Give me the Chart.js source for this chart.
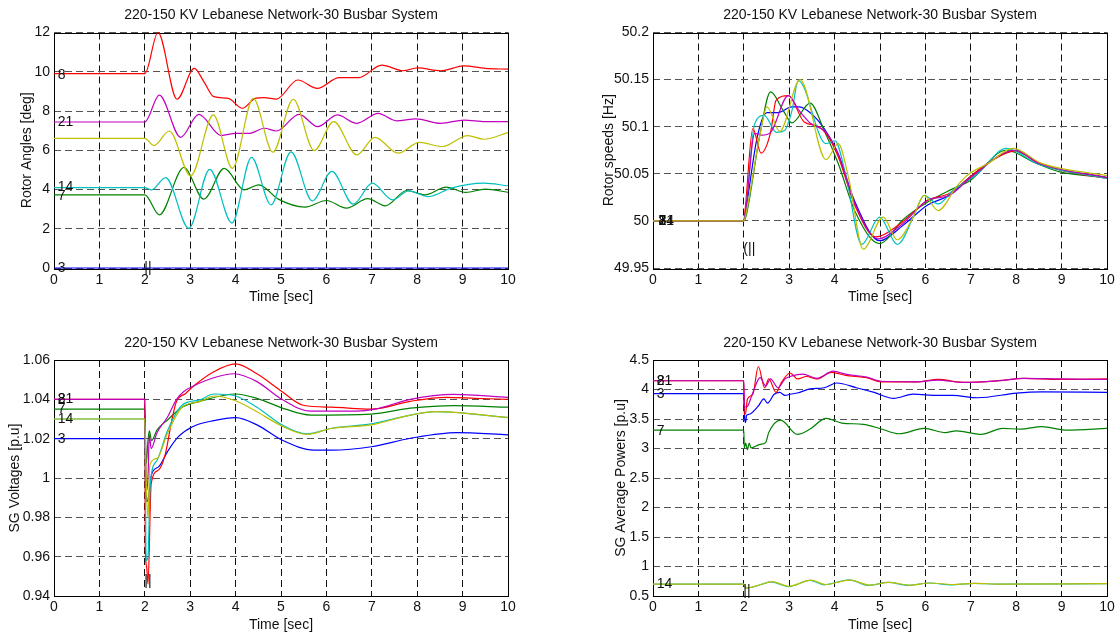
<!DOCTYPE html>
<html>
<head>
<meta charset="utf-8">
<title>220-150 KV Lebanese Network-30 Busbar System</title>
<script src="https://cdn.jsdelivr.net/npm/chart.js@4.4.0/dist/chart.umd.min.js"></script>
<style>
  body { margin: 0; background: #fff; }
  #wrap { position: relative; width: 1119px; height: 635px; }
  #wrap canvas { position: absolute; }
</style>
</head>
<body>
<div id="wrap">
  <canvas id="anglesChart" width="560" height="318" style="left:0;top:0"></canvas>
  <canvas id="speedsChart" width="559" height="318" style="left:560px;top:0"></canvas>
  <canvas id="voltsChart" width="560" height="317" style="left:0;top:318px"></canvas>
  <canvas id="powersChart" width="559" height="317" style="left:560px;top:318px"></canvas>
</div>
<script>
'use strict';

/* 220-150 KV Lebanese Network - 30 busbar system, fault at t = 2 s
 * values, [time, value]
 */
var titleText = '220-150 KV Lebanese Network-30 Busbar System';
var timeTicks = [0, 1, 2, 3, 4, 5, 6, 7, 8, 9, 10];
var angleTicks = [0, 2, 4, 6, 8, 10, 12];
var speedTicks = [49.95, 50, 50.05, 50.1, 50.15, 50.2];
var voltTicks = [0.94, 0.96, 0.98, 1, 1.02, 1.04, 1.06];
var powerTicks = [0.5, 1, 1.5, 2, 2.5, 3, 3.5, 4, 4.5];

// rotor angles [deg]
var angle8 = [[0, 9.9], [2, 9.9], [2.29, 12.0], [2.71, 8.6], [3.09, 10.17], [3.3, 9.5], [3.52, 8.73],
  [3.84, 8.64], [4.15, 8.14], [4.43, 8.64], [4.63, 8.68], [4.9, 8.61], [5.37, 9.58], [5.8, 9.15],
  [6.28, 9.7], [6.71, 9.7], [7.22, 10.34], [7.69, 10.05], [8.01, 10.2], [8.52, 10.05], [9.03, 10.3],
  [9.5, 10.17], [10, 10.13]];
var angle21 = [[0, 7.44], [2, 7.44], [2.32, 8.81], [2.79, 6.66], [3.19, 7.83], [3.68, 6.75], [4.0, 6.86],
  [4.31, 6.86], [4.63, 7.12], [4.9, 6.98], [5.4, 7.83], [5.81, 7.2], [6.24, 7.8], [6.67, 7.37],
  [7.14, 7.88], [7.54, 7.5], [7.97, 7.6], [8.52, 7.37], [9.03, 7.54], [9.5, 7.46], [10, 7.46]];
var angle2 = [[0, 6.61], [2, 6.61], [2.2, 6.24], [2.54, 6.98], [3.01, 4.69], [3.51, 7.8], [3.93, 5.08],
  [4.39, 8.64], [4.82, 5.9], [5.27, 8.6], [5.73, 5.98], [6.16, 7.46], [6.67, 5.76], [7.07, 6.66],
  [7.58, 5.85], [8.05, 6.4], [8.56, 6.19], [9.11, 6.75], [9.47, 6.56], [10, 6.9]];
var angle14 = [[0, 4.1], [2, 4.1], [2.15, 3.98], [2.46, 4.61], [2.97, 2.02], [3.43, 5.03], [3.92, 2.29],
  [4.35, 5.64], [4.78, 3.22], [5.22, 5.92], [5.69, 3.42], [6.12, 4.92], [6.59, 3.25], [7.01, 4.32],
  [7.46, 3.47], [7.81, 3.93], [8.25, 3.64], [8.75, 4.07], [9.47, 4.32], [10, 4.19]];
var angle7 = [[0, 3.73], [2, 3.73], [2.32, 2.71], [2.86, 5.12], [3.3, 3.51], [3.75, 5.08], [4.19, 3.98],
  [4.51, 4.24], [4.94, 3.51], [5.53, 3.1], [6.0, 3.44], [6.44, 3.05], [6.91, 3.53], [7.3, 3.17],
  [7.77, 3.95], [8.17, 3.73], [8.64, 4.12], [9.07, 3.85], [9.5, 4.02], [10, 3.86]];
var angle3 = [[0, 0], [10, 0]];

// rotor speeds [Hz]
var speed8 = [[0, 50], [2, 50], [2.03, 50.012], [2.2, 50.098], [2.38, 50.072], [2.59, 50.094], [2.71, 50.128],
  [2.98, 50.133], [3.33, 50.105], [3.61, 50.101], [3.81, 50.093], [4.08, 50.068], [4.45, 50.016],
  [4.91, 49.983], [5.07, 49.985], [5.5, 49.999], [6.05, 50.022], [6.52, 50.029], [6.99, 50.047],
  [7.46, 50.064], [7.97, 50.074], [8.48, 50.062], [8.96, 50.054], [10, 50.045]];
var speed21 = [[0, 50], [2, 50], [2.04, 50.01], [2.24, 50.093], [2.4, 50.091], [2.59, 50.094], [2.98, 50.133],
  [3.22, 50.117], [3.46, 50.104], [3.81, 50.094], [4.08, 50.071], [4.45, 50.018], [4.95, 49.981],
  [5.5, 49.997], [6.05, 50.022], [6.52, 50.027], [7.0, 50.046], [7.97, 50.075], [8.5, 50.061], [10, 50.046]];
var speed3 = [[0, 50], [2, 50], [2.04, 50.01], [2.3, 50.09], [2.51, 50.115], [2.75, 50.115], [3.06, 50.121],
  [3.22, 50.121], [3.53, 50.112], [3.77, 50.098], [4.08, 50.071], [4.45, 50.02], [4.99, 49.979],
  [5.5, 49.995], [6.05, 50.017], [6.52, 50.027], [6.99, 50.047], [8.01, 50.075], [8.5, 50.061], [10, 50.046]];
var speed7 = [[0, 50], [2, 50], [2.05, 50.005], [2.36, 50.093], [2.59, 50.137], [2.87, 50.117], [3.06, 50.104],
  [3.46, 50.125], [3.77, 50.096], [4.08, 50.061], [4.45, 50.01], [4.99, 49.976], [5.5, 50.001],
  [6.05, 50.02], [6.6, 50.034], [6.99, 50.043], [7.78, 50.075], [8.4, 50.062], [8.96, 50.052], [10, 50.046]];
var speed14 = [[0, 50], [2, 50], [2.04, 50.01], [2.24, 50.103], [2.45, 50.112], [2.72, 50.094], [2.9, 50.096],
  [3.06, 50.117], [3.2, 50.149], [3.81, 50.082], [4.01, 50.085], [4.24, 50.05], [4.6, 49.975],
  [4.99, 50.004], [5.38, 49.975], [5.77, 50.008], [5.97, 50.027], [6.28, 50.018], [6.6, 50.032],
  [7.15, 50.05], [7.78, 50.077], [8.5, 50.06], [10, 50.045]];
var speed2 = [[0, 50], [2, 50], [2.05, 50.008], [2.35, 50.09], [2.51, 50.121], [2.79, 50.095], [3.24, 50.15],
  [3.81, 50.065], [4.08, 50.082], [4.32, 50.043], [4.63, 49.97], [5.07, 50.004], [5.38, 49.98],
  [5.73, 50.004], [5.97, 50.027], [6.28, 50.011], [6.68, 50.036], [6.91, 50.048], [7.38, 50.061],
  [7.93, 50.077], [8.56, 50.061], [10, 50.048]];

// SG voltages [p.u]
var volt8 = [[0, 1.04], [2, 1.04], [2.01, 0.965], [2.04, 0.955], [2.07, 0.946], [2.14, 0.997], [2.3, 1.004],
  [2.45, 1.012], [2.6, 1.03], [2.7, 1.039], [2.9, 1.043], [3.09, 1.047], [3.52, 1.054], [4.0, 1.058],
  [4.47, 1.053], [5.02, 1.044], [5.49, 1.037], [6.12, 1.036], [6.99, 1.035], [7.85, 1.039],
  [8.64, 1.041], [9.27, 1.0405], [10, 1.04]];
var volt21 = [[0, 1.04], [2, 1.04], [2.03, 0.993], [2.07, 1.0], [2.1, 1.022], [2.14, 1.015], [2.27, 1.023],
  [2.5, 1.031], [2.7, 1.04], [2.86, 1.044], [3.09, 1.047], [3.52, 1.051], [3.96, 1.053], [4.47, 1.049],
  [5.02, 1.04], [5.65, 1.034], [6.67, 1.034], [7.07, 1.035], [7.85, 1.04], [8.8, 1.0425], [10, 1.041]];
var volt7 = [[0, 1.035], [2, 1.035], [2.03, 1.007], [2.07, 1.019], [2.1, 1.024], [2.15, 1.019], [2.27, 1.0245],
  [2.5, 1.0295], [2.82, 1.036], [3.21, 1.039], [4.0, 1.0427], [4.47, 1.0405], [5.1, 1.035], [5.65, 1.032],
  [6.99, 1.0325], [7.85, 1.0355], [8.8, 1.0368], [10, 1.036]];
var volt14 = [[0, 1.03], [2, 1.03], [2.03, 0.958], [2.07, 0.96], [2.12, 0.997], [2.27, 1.009], [2.5, 1.024],
  [2.82, 1.037], [3.21, 1.0397], [3.52, 1.0427], [4.0, 1.0417], [4.47, 1.036], [5.02, 1.027],
  [5.57, 1.0224], [6.12, 1.0253], [6.99, 1.0275], [7.85, 1.032], [8.4, 1.0337], [10, 1.0307]];
var volt2 = [[0, 1.03], [2, 1.03], [2.03, 1.0], [2.07, 0.9795], [2.11, 1.0066], [2.27, 1.01], [2.5, 1.0227],
  [2.82, 1.036], [3.21, 1.0388], [3.52, 1.0417], [4.0, 1.0393], [4.47, 1.0337], [5.02, 1.0264],
  [5.57, 1.0222], [6.12, 1.0253], [6.99, 1.027], [7.85, 1.032], [8.4, 1.0337], [10, 1.0308]];
var volt3 = [[0, 1.02], [2, 1.02], [2.04, 0.988], [2.08, 0.99], [2.15, 1.0019], [2.31, 1.0058], [2.5, 1.0134],
  [2.74, 1.021], [3.05, 1.0261], [3.52, 1.0292], [4.0, 1.0307], [4.47, 1.027], [5.02, 1.0193],
  [5.73, 1.0142], [6.12, 1.0142], [6.99, 1.0159], [7.85, 1.0202], [8.87, 1.0231], [10, 1.0219]];

// SG average powers [p.u]
var power8 = [[0, 4.148], [2, 4.148], [2.01, 3.58], [2.04, 3.6], [2.08, 3.84], [2.2, 3.92], [2.32, 4.39],
  [2.46, 4.03], [2.55, 4.18], [2.71, 3.95], [2.83, 4.12], [3.02, 4.28], [3.18, 4.18], [3.38, 4.22],
  [3.61, 4.18], [3.93, 4.29], [4.24, 4.24], [4.71, 4.2], [5.03, 4.13], [5.81, 4.13], [6.28, 4.17],
  [6.83, 4.12], [7.62, 4.15], [8.17, 4.19], [8.96, 4.17], [10, 4.18]];
var power21 = [[0, 4.148], [2, 4.148], [2.01, 3.72], [2.06, 3.7], [2.2, 3.95], [2.36, 4.2], [2.48, 4.06],
  [2.59, 4.18], [2.75, 4.03], [2.91, 4.18], [3.06, 4.23], [3.3, 4.26], [3.61, 4.19], [3.97, 4.31],
  [4.24, 4.26], [4.71, 4.21], [5.03, 4.14], [5.81, 4.13], [6.28, 4.16], [6.83, 4.12], [7.62, 4.15],
  [8.17, 4.19], [8.96, 4.18], [10, 4.17]];
var power3 = [[0, 3.93], [2, 3.93], [2.02, 3.5], [2.04, 3.44], [2.06, 3.56], [2.12, 3.58], [2.32, 3.72],
  [2.44, 3.84], [2.52, 3.77], [2.67, 3.92], [2.79, 3.95], [2.91, 3.9], [3.02, 3.92], [3.18, 3.94],
  [3.46, 4.01], [3.77, 4.03], [4.05, 4.11], [4.48, 4.03], [4.87, 3.95], [5.3, 3.85], [5.73, 3.92],
  [6.28, 3.9], [6.6, 3.9], [7.15, 3.86], [8.01, 3.94], [8.56, 3.96], [10, 3.95]];
var power7 = [[0, 3.31], [2, 3.31], [2.01, 3.01], [2.04, 3.09], [2.08, 2.98], [2.12, 3.09], [2.16, 3.01],
  [2.36, 3.07], [2.48, 3.1], [2.55, 3.27], [2.81, 3.48], [3.18, 3.24], [3.46, 3.33], [3.81, 3.51],
  [4.16, 3.43], [4.63, 3.41], [5.03, 3.33], [5.42, 3.25], [5.97, 3.34], [6.44, 3.27], [6.68, 3.3],
  [7.23, 3.24], [7.7, 3.34], [8.09, 3.33], [8.56, 3.37], [9.11, 3.31], [10, 3.34]];
var power14 = [[0, 0.7], [2, 0.7], [2.04, 0.64], [2.12, 0.64], [2.36, 0.69], [2.59, 0.74], [2.99, 0.66],
  [3.46, 0.765], [3.77, 0.69], [4.32, 0.775], [4.75, 0.68], [5.18, 0.73], [5.62, 0.68], [6.09, 0.72],
  [6.56, 0.69], [7.07, 0.715], [7.62, 0.7], [10, 0.71]];
var power2 = [[0, 0.7], [2, 0.7], [2.04, 0.63], [2.12, 0.64], [2.36, 0.69], [2.61, 0.745], [3.0, 0.665],
  [3.48, 0.77], [3.8, 0.695], [4.34, 0.77], [4.78, 0.685], [5.2, 0.73], [5.65, 0.685], [6.1, 0.72],
  [6.6, 0.695], [7.1, 0.715], [7.65, 0.7], [10, 0.71]];

// generator labels written next to the curves: [text, time, value]
var angleTags = [['8', 0.08, 9.85], ['21', 0.08, 7.44], ['14', 0.08, 4.1], ['7', 0.08, 3.66], ['3', 0.08, 0], ['||', 1.99, 0]];
var speedTags = [['3', 0.12, 50], ['8', 0.12, 50], ['21', 0.12, 50], ['7', 0.12, 50], ['14', 0.12, 50], ['(||', 1.99, 49.97]];
var voltTags = [['8', 0.08, 1.04], ['21', 0.08, 1.04], ['7', 0.08, 1.035], ['14', 0.08, 1.0298], ['3', 0.08, 1.02], ['||', 1.99, 0.9478]];
var powerTags = [['8', 0.08, 4.148], ['21', 0.08, 4.148], ['3', 0.08, 3.92], ['7', 0.08, 3.3], ['14', 0.08, 0.7], ['||', 1.99, 0.59]];

var FONT = "'Liberation Sans', Arial, Helvetica, sans-serif";
var C = {
  blue: '#0000ff', green: '#008000', red: '#ff0000',
  cyan: '#00bfbf', magenta: '#bf00bf', yellow: '#bfbf00'
};

function series(label, color, pts) {
  return {
    label: label,
    data: pts.map(function (p) { return { x: p[0], y: p[1] }; }),
    borderColor: color,
    backgroundColor: color,
    borderWidth: 1.2,
    pointRadius: 0,
    fill: false,
    cubicInterpolationMode: 'monotone',
    clip: false
  };
}

// solid box round the axes, like matlab's "box on"
var frame = {
  id: 'frame',
  beforeDatasetsDraw: function (chart) {
    var a = chart.chartArea, ctx = chart.ctx;
    ctx.save();
    ctx.strokeStyle = '#000';
    ctx.lineWidth = 1;
    ctx.strokeRect(Math.round(a.left) + 0.5, Math.round(a.top) + 0.5,
      Math.round(a.right - a.left), Math.round(a.bottom - a.top));
    ctx.restore();
  }
};

function tagPlugin(tags) {
  return {
    id: 'tags',
    afterDatasetsDraw: function (chart) {
      var ctx = chart.ctx, xs = chart.scales.x, ys = chart.scales.y;
      ctx.save();
      ctx.font = '14px ' + FONT;
      ctx.fillStyle = '#111';
      ctx.textAlign = 'left';
      ctx.textBaseline = 'middle';
      tags.forEach(function (t) {
        ctx.fillText(t[0], xs.getPixelForValue(t[1]), ys.getPixelForValue(t[2]));
      });
      ctx.restore();
    }
  };
}

function fmt(v) {
  return String(Number(v.toFixed(3)));
}

var textFont = { family: FONT, size: 14, weight: 'normal', lineHeight: 1.2 };

function panel(id, opt) {
  var ctx = document.getElementById(id);
  new Chart(ctx, {
    type: 'line',
    data: { datasets: opt.datasets },
    plugins: [frame, tagPlugin(opt.tags)],
    options: {
      responsive: false,
      animation: false,
      events: [],
      layout: { padding: opt.padding },
      plugins: {
        legend: { display: false },
        tooltip: { enabled: false },
        title: {
          display: true,
          text: titleText,
          fullSize: false,
          color: '#111',
          font: textFont,
          padding: opt.titlePad
        }
      },
      scales: {
        x: {
          type: 'linear',
          min: 0,
          max: 10,
          afterBuildTicks: function (s) { s.ticks = timeTicks.map(function (v) { return { value: v }; }); },
          afterFit: function (s) { s.height = opt.xHeight; },
          ticks: {
            autoSkip: false, maxRotation: 0, padding: opt.xPad, color: '#111',
            font: textFont,
            callback: fmt
          },
          grid: { color: '#111', lineWidth: 1, drawTicks: false },
          border: { display: false, dash: [7, 4] },
          title: {
            display: true, text: 'Time [sec]', color: '#111', padding: 0,
            font: textFont
          }
        },
        y: {
          type: 'linear',
          min: opt.ticks[0],
          max: opt.ticks[opt.ticks.length - 1],
          afterBuildTicks: function (s) { s.ticks = opt.ticks.map(function (v) { return { value: v }; }); },
          afterFit: function (s) { s.width = opt.yWidth; },
          ticks: {
            autoSkip: false, padding: 4, color: '#111',
            font: textFont,
            callback: fmt
          },
          grid: { color: '#555', lineWidth: 1, drawTicks: false },
          border: { display: false, dash: [7, 4] },
          title: {
            display: true, text: opt.yTitle, color: '#111', padding: 0,
            font: textFont
          }
        }
      }
    }
  });
}

panel('anglesChart', {
  yTitle: 'Rotor Angles [deg]',
  ticks: angleTicks,
  yWidth: 35.4,
  xHeight: 37.7,
  xPad: 3.6,
  padding: { left: 18.6, right: 52, top: 0, bottom: 12.3 },
  titlePad: { top: 6.6, bottom: 9.1 },
  tags: angleTags,
  datasets: [
    series('2', C.yellow, angle2),
    series('21', C.magenta, angle21),
    series('14', C.cyan, angle14),
    series('8', C.red, angle8),
    series('7', C.green, angle7),
    series('3', C.blue, angle3)
  ]
});

panel('speedsChart', {
  yTitle: 'Rotor speeds [Hz]',
  ticks: speedTicks,
  yWidth: 52.4,
  xHeight: 37.7,
  xPad: 3.6,
  padding: { left: 40.6, right: 12, top: 0, bottom: 12.3 },
  titlePad: { top: 6.6, bottom: 9.1 },
  tags: speedTags,
  datasets: [
    series('2', C.yellow, speed2),
    series('21', C.magenta, speed21),
    series('14', C.cyan, speed14),
    series('8', C.red, speed8),
    series('7', C.green, speed7),
    series('3', C.blue, speed3)
  ]
});

panel('voltsChart', {
  yTitle: 'SG Voltages [p.u]',
  ticks: voltTicks,
  yWidth: 47,
  xHeight: 37.4,
  xPad: 3,
  padding: { left: 7, right: 52, top: 0, bottom: 1.6 },
  titlePad: { top: 16.9, bottom: 8.3 },
  tags: voltTags,
  datasets: [
    series('2', C.yellow, volt2),
    series('21', C.magenta, volt21),
    series('14', C.cyan, volt14),
    series('8', C.red, volt8),
    series('7', C.green, volt7),
    series('3', C.blue, volt3)
  ]
});

panel('powersChart', {
  yTitle: 'SG Average Powers [p.u]',
  ticks: powerTicks,
  yWidth: 40.4,
  xHeight: 37.4,
  xPad: 3,
  padding: { left: 52.6, right: 12, top: 0, bottom: 1.6 },
  titlePad: { top: 16.9, bottom: 8.3 },
  tags: powerTags,
  datasets: [
    series('2', C.yellow, power2),
    series('21', C.magenta, power21),
    series('14', C.cyan, power14),
    series('8', C.red, power8),
    series('7', C.green, power7),
    series('3', C.blue, power3)
  ]
});
</script>
</body>
</html>
